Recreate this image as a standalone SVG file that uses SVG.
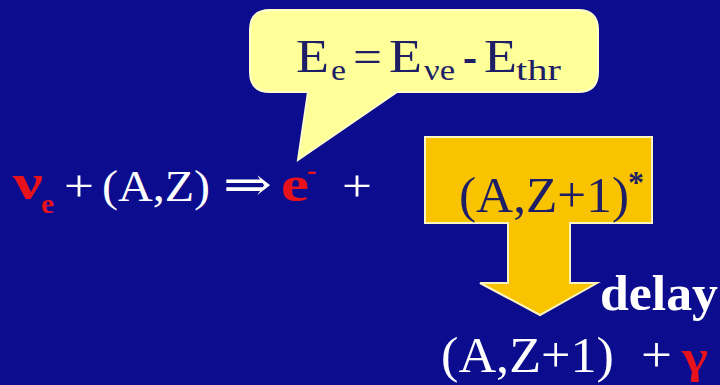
<svg xmlns="http://www.w3.org/2000/svg" width="720" height="385" viewBox="0 0 720 385">
<style>
.s{font-family:"Liberation Serif","Times New Roman",serif}
.w{fill:#ffffff}
.r{fill:#e8121c;font-weight:bold}
.n{fill:#1e1e66}
</style>
<rect width="720" height="385" fill="#0c0c8e"/>
<g id="bubble">
<path d="M270,10 H578 Q598,10 598,30 V72 Q598,92 578,92 H397 L298,160 L308,92 H270 Q250,92 250,72 V30 Q250,10 270,10 Z" fill="#ffff99" stroke="#ffffcc" stroke-width="2"/>
<g class="s n">
<text font-size="46" x="296" y="72" textLength="33" lengthAdjust="spacingAndGlyphs">E</text>
<text font-size="30" x="331" y="80" textLength="15" lengthAdjust="spacingAndGlyphs">e</text>
<text font-size="46" x="353" y="72" textLength="29" lengthAdjust="spacingAndGlyphs">=</text>
<text font-size="46" x="389" y="72" textLength="33" lengthAdjust="spacingAndGlyphs">E</text>
<text font-size="30" x="424" y="80" textLength="31" lengthAdjust="spacingAndGlyphs">νe</text>
<text font-size="46" x="463" y="72" textLength="14" lengthAdjust="spacingAndGlyphs" font-weight="bold">-</text>
<text font-size="46" x="484" y="72" textLength="33" lengthAdjust="spacingAndGlyphs">E</text>
<text font-size="30" x="516" y="80" textLength="45" lengthAdjust="spacingAndGlyphs">thr</text>
</g>
</g>
<g id="equation">
<text class="s r" font-size="50" x="13" y="199" textLength="30" lengthAdjust="spacingAndGlyphs">ν</text>
<text class="s r" font-size="28" x="41" y="213" textLength="13" lengthAdjust="spacingAndGlyphs">e</text>
<text class="s w" font-size="45" x="64" y="201" textLength="30" lengthAdjust="spacingAndGlyphs">+</text>
<text class="s w" font-size="45" x="102" y="201" textLength="108" lengthAdjust="spacingAndGlyphs">(A,Z)</text>
<text class="w" font-size="46" x="223" y="200" font-family="DejaVu Serif" textLength="49" lengthAdjust="spacingAndGlyphs">⇒</text>
<text class="s r" font-size="50" x="281" y="201" textLength="28" lengthAdjust="spacingAndGlyphs">e</text>
<text class="s r" font-size="28" x="307" y="179">-</text>
<text class="s w" font-size="45" x="342" y="201" textLength="30" lengthAdjust="spacingAndGlyphs">+</text>
</g>
<g id="excited">
<path d="M425,137 H652 V223 H570 V283 H597 L540,315 L480,283 H508 V223 H425 Z" fill="#f9c300" stroke="#fff4c0" stroke-width="2"/>
<text class="s n" font-size="50" x="459" y="212" textLength="170" lengthAdjust="spacingAndGlyphs">(A,Z+1)</text>
<text class="s n" font-size="32" font-weight="bold" x="628" y="193">*</text>
</g>
<g id="delay">
<text class="s w" font-size="51" font-weight="bold" x="600" y="310" textLength="118" lengthAdjust="spacingAndGlyphs">delay</text>
</g>
<g id="final">
<text class="s w" font-size="51" x="441" y="372" textLength="173" lengthAdjust="spacingAndGlyphs">(A,Z+1)</text>
<text class="s w" font-size="51" x="641" y="372" textLength="31" lengthAdjust="spacingAndGlyphs">+</text>
<text class="s r" font-size="46" x="682" y="372" textLength="26" lengthAdjust="spacingAndGlyphs">γ</text>
</g>
</svg>
